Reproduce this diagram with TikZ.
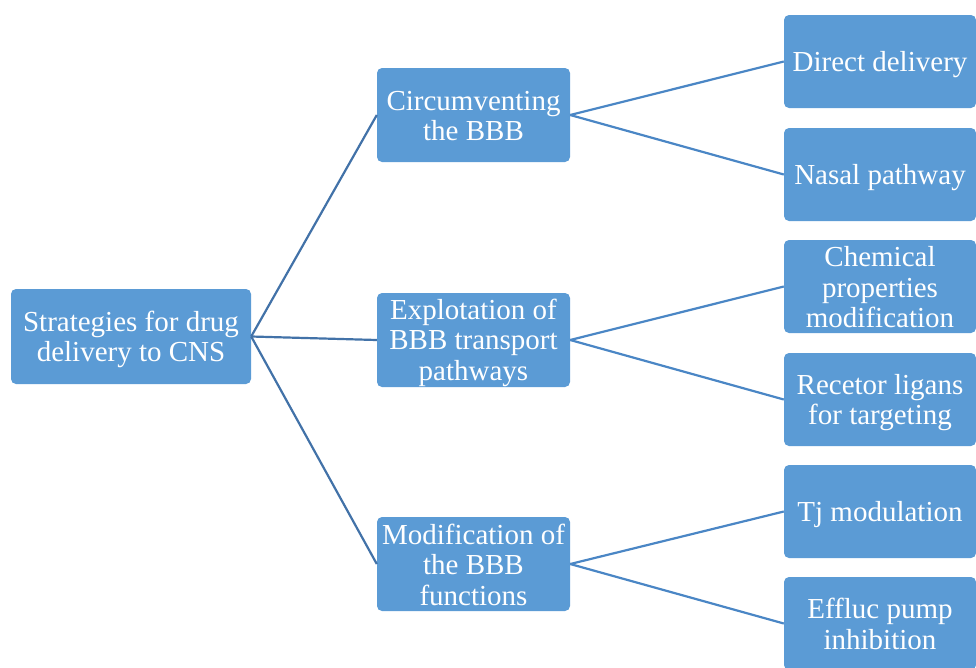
\documentclass[tikz,border=0pt]{standalone}
\usepackage{fontspec}
\setmainfont{Liberation Serif}
\definecolor{boxfill}{HTML}{5B9BD5}
\definecolor{lineA}{HTML}{4272A8}
\definecolor{lineB}{HTML}{4A86C5}
\newcommand\topstrut{\rule{0pt}{26pt}}
\newcommand\botstrut{\rule[-5pt]{0pt}{0pt}}
\tikzset{
  box/.style={fill=boxfill, rounded corners=5pt, text=white, align=center,
    inner sep=0pt, font=\fontsize{29}{30.5}\selectfont},
  midbox/.style={box, minimum width=193pt, minimum height=94pt},
  rbox/.style={box, minimum width=192pt, minimum height=93pt},
  linkA/.style={draw=lineA, line width=2.2pt},
  linkB/.style={draw=lineB, line width=2.2pt}
}
\begin{document}
\begin{tikzpicture}[x=1pt,y=-1pt]
\useasboundingbox (0,0) rectangle (976,667);
\clip (0,0) rectangle (976,667);
\node[box, minimum width=240pt, minimum height=95pt] (root) at (131,336.5) {\topstrut Strategies for drug\\delivery to CNS\botstrut};
\node[midbox] (circ) at (473.5,115) {\topstrut Circumventing\\the BBB\botstrut};
\node[midbox] (expl) at (473.5,340) {\topstrut Explotation of\\BBB transport\\pathways\botstrut};
\node[midbox] (mod) at (473.5,564) {\topstrut Modification of\\the BBB\\functions\botstrut};
\node[rbox] (direct) at (880,61.5) {\topstrut Direct delivery\botstrut};
\node[rbox] (nasal) at (880,174.5) {\topstrut Nasal pathway\botstrut};
\node[rbox] (chem) at (880,286.5) {\topstrut Chemical\\properties\\modification\botstrut};
\node[rbox] (rec) at (880,399.5) {\topstrut Recetor ligans\\for targeting\botstrut};
\node[rbox] (tj) at (880,511.5) {\topstrut Tj modulation\botstrut};
\node[rbox] (eff) at (880,623.5) {\topstrut Effluc pump\\inhibition\botstrut};
\draw[linkA] (root.east) -- (circ.west);
\draw[linkA] (root.east) -- (expl.west);
\draw[linkA] (root.east) -- (mod.west);
\draw[linkB] (circ.east) -- (direct.west);
\draw[linkB] (circ.east) -- (nasal.west);
\draw[linkB] (expl.east) -- (chem.west);
\draw[linkB] (expl.east) -- (rec.west);
\draw[linkB] (mod.east) -- (tj.west);
\draw[linkB] (mod.east) -- (eff.west);
\end{tikzpicture}
\end{document}
